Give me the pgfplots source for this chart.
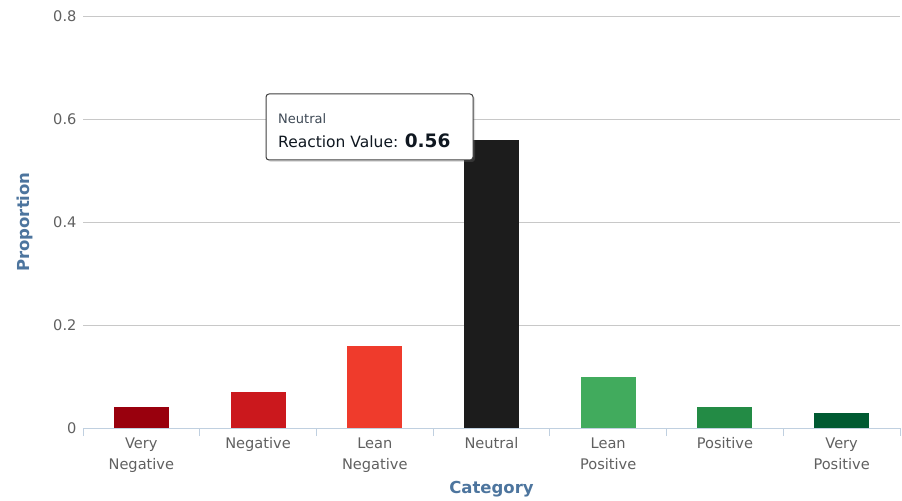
\documentclass[border=0pt]{standalone}
\usepackage{pgfplots}
\pgfplotsset{compat=1.18}
\usepackage{fontspec}
\setmainfont{DejaVu Sans}
\usetikzlibrary{shadows}

\definecolor{vneg}{HTML}{99000D}
\definecolor{neg}{HTML}{CB181D}
\definecolor{lneg}{HTML}{EF3B2C}
\definecolor{neu}{HTML}{1C1C1C}
\definecolor{lpos}{HTML}{41AB5D}
\definecolor{pos}{HTML}{238B45}
\definecolor{vpos}{HTML}{005A32}
\definecolor{axisblue}{HTML}{C0D0E0}
\definecolor{gridgray}{HTML}{C8C8C8}
\definecolor{labelgray}{HTML}{606060}
\definecolor{titleblue}{HTML}{4D759E}

\begin{document}
\begin{tikzpicture}[x=1pt,y=1pt]
\path (0,0) rectangle (902,499);
\begin{axis}[
    at={(83pt,71pt)}, anchor=south west,
    scale only axis,
    width=817pt, height=412pt,
    xmin=-0.5, xmax=6.5,
    ymin=0, ymax=0.8,
    ybar,
    bar width=55pt,
    xtick={0,...,6},
    xticklabels={{Very\\Negative},Negative,{Lean\\Negative},Neutral,{Lean\\Positive},Positive,{Very\\Positive}},
    minor xtick={-0.5,0.5,...,6.5},
    major tick length=0pt,
    minor tick length=8pt,
    tick align=outside,
    minor x tick style={draw=axisblue, line width=1pt},
    ytick={0,0.2,0.4,0.6,0.8},
    yticklabels={0,0.2,0.4,0.6,0.8},
    ymajorgrids,
    grid style={draw=gridgray, line width=0.9pt},
    axis x line*=bottom,
    axis y line*=left,
    x axis line style={draw=axisblue, line width=1pt, -},
    y axis line style={draw=none},
    ytick style={draw=none},
    xtick style={draw=none},
    xticklabel style={align=center, font=\fontsize{14.6}{21}\selectfont, text=labelgray, yshift=-6pt},
    yticklabel style={font=\fontsize{14.6}{17}\selectfont, text=labelgray, xshift=-3pt},
    xlabel={Category},
    ylabel={Proportion},
    xlabel style={at={(axis description cs:0.5,0)}, anchor=center, yshift=-61pt, font=\fontsize{16.5}{19}\selectfont\bfseries, text=titleblue},
    ylabel style={at={(axis description cs:-0.071,0.5)}, anchor=center, font=\fontsize{16.5}{19}\selectfont\bfseries, text=titleblue},
    clip=false,
]
\addplot[fill=vneg, draw=none, bar shift=0pt] coordinates {(0,0.04)};
\addplot[fill=neg,  draw=none, bar shift=0pt] coordinates {(1,0.07)};
\addplot[fill=lneg, draw=none, bar shift=0pt] coordinates {(2,0.16)};
\addplot[fill=neu,  draw=none, bar shift=0pt] coordinates {(3,0.56)};
\addplot[fill=lpos, draw=none, bar shift=0pt] coordinates {(4,0.10)};
\addplot[fill=pos,  draw=none, bar shift=0pt] coordinates {(5,0.04)};
\addplot[fill=vpos, draw=none, bar shift=0pt] coordinates {(6,0.03)};
\end{axis}
% tooltip
\draw[draw=black!75, fill=white, rounded corners=3pt, line width=1pt,
      drop shadow={opacity=0.25, shadow xshift=2pt, shadow yshift=-2pt}]
      (266,405) rectangle (473,339);
\node[anchor=west, inner sep=0, text=labelgray!60!titleblue!70!black, font=\fontsize{13}{15}\selectfont] at (278,380) {Neutral};
\node[anchor=west, inner sep=0, text=black!80!titleblue, font=\fontsize{15.5}{18}\selectfont] at (278,358) {Reaction Value: {\fontsize{18.5}{20}\selectfont\bfseries 0.56}};
\end{tikzpicture}
\end{document}
